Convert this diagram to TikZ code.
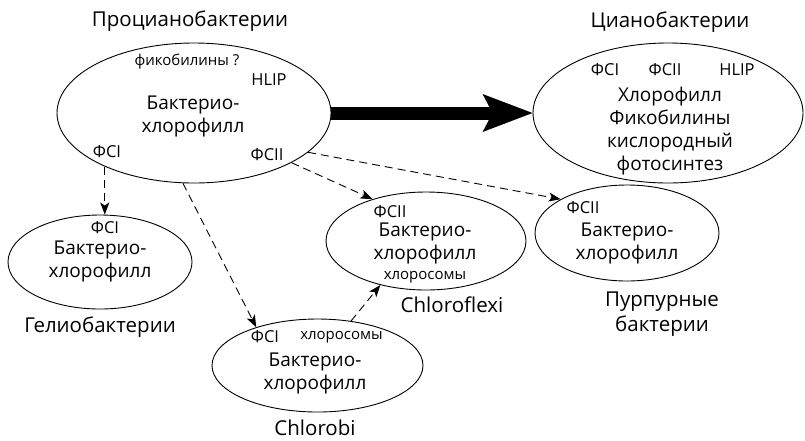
\documentclass[tikz,border=0pt]{standalone}
\usepackage{fontspec}
\setmainfont{Open Sans}
\usetikzlibrary{arrows.meta,positioning,shapes.geometric}
\tikzset{
  % one outlined ellipse per group of bacteria, text put in separately
  grp/.style = {ellipse, draw=black, line width=0.9pt, inner sep=0pt},
  ttl/.style = {font=\fontsize{20.5}{25}\selectfont, align=center},
  txt/.style = {font=\fontsize{19}{23}\selectfont, align=center},
  ps/.style  = {font=\fontsize{16.5}{18}\selectfont},
  sm/.style  = {font=\fontsize{15}{17}\selectfont},
  dep/.style = {-{Stealth[length=12pt,width=9pt,inset=3pt]}, line width=0.9pt,
                dash pattern=on 8pt off 5pt},
  evo/.style = {-{Stealth[length=50pt,width=38pt,inset=10pt,line width=0pt]},
                line width=13pt},
}
\begin{document}
\begin{tikzpicture}[x=1pt,y=-1pt]
\useasboundingbox (0,0) rectangle (805,440);
% outlines
\node[grp, minimum width=274pt, minimum height=140pt] (proto)    at (194,113) {};
\node[grp, minimum width=270pt, minimum height=140pt] (cyano)    at (668,113) {};
\node[grp, minimum width=184pt, minimum height=94pt]  (helio)    at (100,262) {};
\node[grp, minimum width=211pt, minimum height=93pt]  (chlorobi) at (317.5,365.5) {};
\node[grp, minimum width=200pt, minimum height=98pt]  (flexi)    at (426,241) {};
\node[grp, minimum width=184pt, minimum height=96pt]  (purple)   at (627,233) {};

% group names
\node[ttl] (protottl)    at (190,21)  {Процианобактерии};
\node[ttl] (cyanottl)    at (670,22)  {Цианобактерии};
\node[ttl] (heliottl)    at (100,327) {Гелиобактерии};
\node[ttl, inner sep=1pt] (chlorobittl) at (315,428) {Chlorobi};
\node[ttl] (flexittl)    at (452,305) {Chloroflexi};
\node[ttl] (purplettl)   at (662,314) {Пурпурные\\бактерии};

% contents
\node[sm]  (protophb)  at (187,62)    {фикобилины ?};
\node[ps]  (protohlip) at (269,80)    {HLIP};
\node[txt] (protobchl) at (193,116)   {Бактерио-\\хлорофилл};
\node[ps]  (protopsa)  at (107,152)   {ФСI};
\node[ps]  (protopsb)  at (267,155)   {ФСII};
\node[ps]  (cyanopsa)  at (605,70)    {ФСI};
\node[ps]  (cyanopsb)  at (665,70)    {ФСII};
\node[ps]  (cyanohlip) at (737,70)    {HLIP};
\node[txt] (cyanochl)  at (670,131.5) {Хлорофилл\\Фикобилины\\кислородный\\фотосинтез};
\node[ps]  (heliopsa)  at (105,228)   {ФСI};
\node[txt] (heliobchl) at (100,261.5) {Бактерио-\\хлорофилл};
\node[ps]  (chlorobipsa) at (265,337) {ФСI};
\node[sm]  (chlorobichs) at (341.5,337) {хлоросомы};
\node[txt] (chlorobibchl) at (315,373.5) {Бактерио-\\хлорофилл};
\node[ps]  (flexipsb)  at (390,212)   {ФСII};
\node[txt] (flexibchl) at (425,243.5) {Бактерио-\\хлорофилл};
\node[sm]  (flexichs)  at (425,277)   {хлоросомы};
\node[ps]  (purplepsb) at (583,208)   {ФСII};
\node[txt] (purplebchl) at (627,243.5) {Бактерио-\\хлорофилл};

% connectors
\draw[evo] (proto.east) -- (cyano.west);
\draw[dep] (proto.-149) -- (proto.-149 |- helio.north);
\draw[dep] (proto.-99) -- (chlorobi.148);
\draw[dep] (proto.-27) -- (flexi.142);
\draw[dep] (proto.-19) -- (purple.153);
\draw[dep] (chlorobi.53) -- (flexi.-136);
\end{tikzpicture}
\end{document}
